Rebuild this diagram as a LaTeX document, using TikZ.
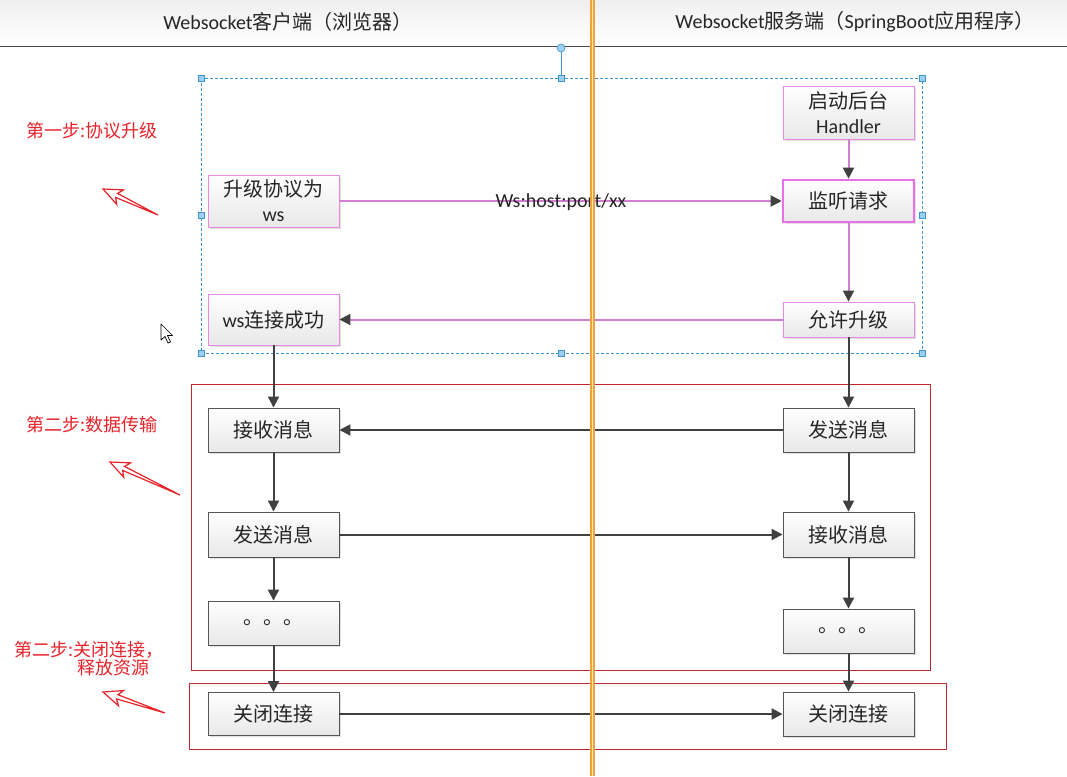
\documentclass[tikz,border=0pt]{standalone}
\usepackage{fontspec}
\setmainfont{Carlito}
\newfontfamily\cjk{Noto Sans CJK SC}
\usetikzlibrary{arrows.meta,shadows,calc}
\definecolor{pinkline}{HTML}{D27FD2}
\definecolor{pinkbox}{HTML}{E58BE5}
\definecolor{pinkthick}{HTML}{E870E8}
\definecolor{dgray}{HTML}{404040}
\definecolor{boxgray}{HTML}{555555}
\definecolor{selblue}{HTML}{3D95CF}
\definecolor{handle}{HTML}{9CCFF2}
\definecolor{stepred}{HTML}{C0282F}
\definecolor{labred}{HTML}{E8232A}
\definecolor{divor}{HTML}{F0A23C}
\definecolor{divin}{HTML}{FCE6B4}
\begin{document}
\begin{tikzpicture}[x=1pt,y=-1pt,
  box/.style={draw=#1, line width=0.9pt, top color=white, bottom color=black!9,
    minimum width=131pt, inner sep=0pt, align=center, text=black!85,
    font=\fontsize{20}{25}\selectfont\cjk,
    drop shadow={shadow xshift=1.5pt,shadow yshift=-1.5pt,fill=black!12,opacity=1}},
  tip/.style={-{Triangle[length=11pt,width=11pt,color=dgray,fill=dgray]}},
  darr/.style={draw=dgray, line width=2pt, tip},
  parr/.style={draw=pinkline, line width=2pt, tip},
  steplab/.style={anchor=west, text=labred, inner sep=0pt, font=\fontsize{18}{22}\selectfont\cjk},
  steprect/.style={draw=stepred, line width=1pt},
  handlebox/.style={draw=selblue, fill=handle, minimum size=6pt, inner sep=0pt, line width=0.6pt},
  headtext/.style={text=black!85, font=\fontsize{20}{24}\selectfont}
]
\useasboundingbox (0,0) rectangle (1067,776);
\fill[white] (0,0) rectangle (1067,776);

% header
\shade[top color=black!6, bottom color=white] (0,0) rectangle (1067,46);
\draw[black!70, line width=1pt] (0,46.5) -- (1067,46.5);
\node[headtext] (hl) at (288,22) {Websocket{\cjk 客户端（浏览器）}};
\node[headtext] (hr) at (855,22) {Websocket{\cjk 服务端（}SpringBoot{\cjk 应用程序）}};

% selection frame
\draw[selblue, line width=0.8pt, dash pattern=on 3pt off 2pt] (201,78) rectangle (922,353);
\foreach \x/\y [count=\i] in {201/78,561/78,922/78,201/215,922/215,201/353,561/353,922/353}
  \node[handlebox] (h\i) at (\x,\y) {};
\node[circle, draw=selblue, fill=handle, minimum size=8pt, inner sep=0pt, line width=0.6pt] (rot) at (561,48) {};
\draw[selblue, line width=0.8pt] (rot) -- (h2);

% step frames
\draw[steprect] (191,384) rectangle (930,670);
\draw[steprect] (189,683) rectangle (946,749);

% boxes left
\node[box=pinkbox, minimum height=52pt] (L1) at (273.5,201) {升级协议为\\{\rmfamily ws}};
\node[box=pinkbox, minimum height=51pt] (L2) at (273.5,319.5) {{\rmfamily ws}连接成功};
\node[box=boxgray, minimum height=44pt] (L3) at (273.5,430) {接收消息};
\node[box=boxgray, minimum height=45pt] (L4) at (273.5,534.5) {发送消息};
\node[box=boxgray, minimum height=44pt] (L5) at (273.5,623) {。。。};
\node[box=boxgray, minimum height=43pt] (L6) at (273.5,714) {关闭连接};
% boxes right
\node[box=pinkbox, minimum height=53pt] (R1) at (848.5,112.5) {启动后台\\{\rmfamily Handler}};
\node[box=pinkthick, line width=2.6pt, minimum height=42pt] (R2) at (848.5,201) {监听请求};
\node[box=pinkbox, minimum height=35pt] (R3) at (848.5,319.5) {允许升级};
\node[box=boxgray, minimum height=44pt] (R4) at (848.5,430) {发送消息};
\node[box=boxgray, minimum height=45pt] (R5) at (848.5,534.5) {接收消息};
\node[box=boxgray, minimum height=44pt] (R6) at (848.5,631) {。。。};
\node[box=boxgray, minimum height=44pt] (R7) at (848.5,714) {关闭连接};

% connectors
\draw[parr] (L1) -- (R2);
\draw[parr] (R1) -- (R2);
\draw[parr] (R2) -- (R3);
\draw[parr] (R3) -- (L2);
\draw[darr] (L2) -- (L3);
\draw[darr] (R3) -- (R4);
\draw[darr] (R4) -- (L3);
\draw[darr] (L3) -- (L4);
\draw[darr] (L4) -- (R5);
\draw[darr] (R4) -- (R5);
\draw[darr] (L4) -- (L5);
\draw[darr] (R5) -- (R6);
\draw[darr] (L5) -- (L6);
\draw[darr] (R6) -- (R7);
\draw[darr] (L6) -- (R7);
\node[text=black!85, font=\fontsize{20}{24}\selectfont] (url) at (561,202) {Ws:host:port/xx};

% step labels
\node[steplab] (s1) at (26,131) {第一步:协议升级};
\node[steplab] (s2) at (26,425) {第二步:数据传输};
\node[steplab] (s3a) at (14,650) {第二步:关闭连接，};
\node[steplab] (s3b) at (77,668) {释放资源};
\coordinate (a1t) at (158,215); \coordinate (a1h) at (103,189);
\coordinate (a2t) at (180,495); \coordinate (a2h) at (110,462);
\coordinate (a3t) at (165,713); \coordinate (a3h) at (103,692);
\foreach \hd/\tl in {a1h/a1t,a2h/a2t,a3h/a3t}{
  \coordinate (H) at ($(\hd)!19pt!(\tl)$);
  \coordinate (N) at ($(\hd)!15pt!(\tl)$);
  \draw[labred, line width=1.2pt, line join=miter]
    (\hd) -- ($(H)!8pt!90:(\tl)$) -- ($(N)!2.2pt!90:(\tl)$) -- (\tl)
    -- ($(N)!2.2pt!-90:(\tl)$) -- ($(H)!8pt!-90:(\tl)$) -- cycle;
}

% cursor
\draw[black, fill=white, line width=0.7pt, line join=round]
  (161,324) -- (161,340) -- (165,336.5) -- (168,343) -- (170.5,342) -- (167.5,335.5) -- (172.5,335.5) -- cycle;

% divider
\draw[divor, line width=4.2pt] (592.5,0) -- (592.5,776);
\draw[divin, line width=1.6pt] (592.5,0) -- (592.5,776);
\end{tikzpicture}
\end{document}
